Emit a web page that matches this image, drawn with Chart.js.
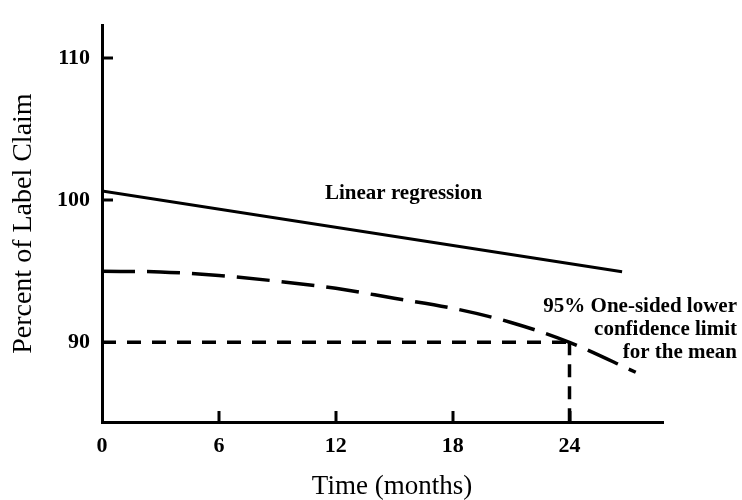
<!DOCTYPE html>
<html>
<head>
<meta charset="utf-8">
<script src="https://cdn.jsdelivr.net/npm/chart.js@4.4.1/dist/chart.umd.min.js"></script>
<style>
  html, body { margin: 0; padding: 0; background: #ffffff; }
  #wrap { width: 742px; height: 500px; position: relative; }
</style>
</head>
<body>
<div id="wrap"><canvas id="c"></canvas></div>
<script>
// ---- data ----
const xTickValues = [0, 6, 12, 18, 24];
const yTickValues = [90, 100, 110];
const regressionMonths = [0, 26.7];
const regressionValues = [100.65, 94.97];
const lclMonths = [0, 3, 6, 9, 12, 15, 18, 21, 24, 27.4];
const lclValues = [95.0, 94.95, 94.7, 94.3, 93.8, 93.1, 92.4, 91.4, 90.0, 87.9];
const specMonths = [0, 24];
const specValues = [90, 90];
const shelfMonths = [24, 24];
const shelfValues = [90, 84.4];
const xMin = 0, xMax = 28.8;
const yMin = 84.4, yMax = 112.3;
const xTitle = 'Time (months)';
const yTitle = 'Percent of Label Claim';
const regLabel = 'Linear regression';
const lclLabel = ['95% One-sided lower', 'confidence limit', 'for the mean'];

const SERIF = '"Liberation Serif", "Times New Roman", serif';

function pts(xs, ys) { return xs.map((x, i) => ({ x: x, y: ys[i] })); }

const annotPlugin = {
  id: 'annot',
  afterDraw(chart) {
    const ctx = chart.ctx;
    const xs = chart.scales.x, ys = chart.scales.y;
    ctx.save();
    // inward tick marks
    ctx.strokeStyle = '#000';
    ctx.lineWidth = 3;
    const bottom = chart.chartArea.bottom, left = chart.chartArea.left;
    xTickValues.forEach(v => {
      if (v === 0) return;
      const px = Math.round(xs.getPixelForValue(v));
      ctx.beginPath(); ctx.moveTo(px, bottom); ctx.lineTo(px, bottom - 11); ctx.stroke();
    });
    [100, 110].forEach(v => {
      const py = Math.round(ys.getPixelForValue(v));
      ctx.beginPath(); ctx.moveTo(left, py); ctx.lineTo(left + 11, py); ctx.stroke();
    });
    // text annotations
    ctx.fillStyle = '#000';
    ctx.textBaseline = 'alphabetic';
    ctx.font = 'bold 21px ' + SERIF;
    ctx.textAlign = 'left';
    ctx.fillText(regLabel, 325, 199);
    ctx.textAlign = 'right';
    const baselines = [312, 335, 358];
    lclLabel.forEach((t, i) => ctx.fillText(t, 737, baselines[i]));
    // x axis title
    ctx.font = '27px ' + SERIF;
    ctx.textAlign = 'center';
    ctx.fillText(xTitle, 392, 494);
    ctx.restore();
  }
};

new Chart(document.getElementById('c'), {
  type: 'line',
  data: {
    datasets: [
      { data: pts(regressionMonths, regressionValues), borderColor: '#000', borderWidth: 3, pointRadius: 0, fill: false },
      { data: pts(lclMonths, lclValues), borderColor: '#000', borderWidth: 3.5, pointRadius: 0, fill: false,
        borderDash: [33, 12], cubicInterpolationMode: 'monotone' },
      { data: pts(specMonths, specValues), borderColor: '#000', borderWidth: 3.5, pointRadius: 0, fill: false,
        borderDash: [14, 11] },
      { data: pts(shelfMonths, shelfValues), borderColor: '#000', borderWidth: 3.5, pointRadius: 0, fill: false,
        borderDash: [13, 9] }
    ]
  },
  options: {
    responsive: true,
    maintainAspectRatio: false,
    animation: false,
    devicePixelRatio: 1,
    layout: { padding: { left: 0, top: 10, right: 79, bottom: 0 } },
    plugins: { legend: { display: false }, tooltip: { enabled: false } },
    elements: { line: { borderCapStyle: 'butt' } },
    scales: {
      x: {
        type: 'linear', min: xMin, max: xMax,
        afterBuildTicks: s => { s.ticks = xTickValues.map(v => ({ value: v })); },
        afterFit: s => { s.height = 78; },
        grid: { display: true, drawOnChartArea: false, drawTicks: false },
        border: { display: true, color: '#000', width: 3 },
        ticks: { color: '#000', padding: 11, font: { family: SERIF, size: 22, weight: 'bold' }, maxRotation: 0,
                 callback: v => String(v) },
        title: { display: false, text: xTitle }
      },
      y: {
        type: 'linear', min: yMin, max: yMax,
        afterBuildTicks: s => { s.ticks = yTickValues.map(v => ({ value: v })); },
        afterFit: s => { s.width = 102; },
        grid: { display: true, drawOnChartArea: false, drawTicks: false },
        border: { display: true, color: '#000', width: 3 },
        ticks: { color: '#000', padding: 12, font: { family: SERIF, size: 22, weight: 'bold' },
                 callback: v => String(v) },
        title: { display: true, text: yTitle, color: '#000', font: { family: SERIF, size: 28 }, padding: { top: 7, bottom: 0 } }
      }
    }
  },
  plugins: [annotPlugin]
});
</script>
</body>
</html>
